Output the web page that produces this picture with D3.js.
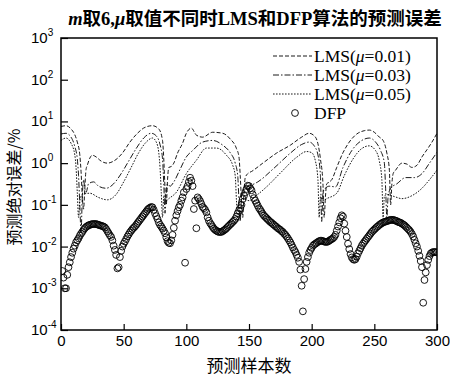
<!DOCTYPE html>
<html><head><meta charset="utf-8">
<script src="https://cdn.jsdelivr.net/npm/d3@7/dist/d3.min.js"></script>
<style>body{margin:0;background:#fff}svg{display:block}</style>
</head><body><svg id="c" width="450" height="376"></svg>
<script>
// ---------- data ----------
const xTicks = [0, 50, 100, 150, 200, 250, 300];
const yTickExps = [-4, -3, -2, -1, 0, 1, 2, 3];
const seriesNames = ["LMS(μ=0.01)", "LMS(μ=0.03)", "LMS(μ=0.05)", "DFP"];
const muLabels = ["0.01", "0.03", "0.05"];

// DFP prediction error (%), samples 1..300
const dfpValues = [
 2.6e-3,1.8e-3,1.0e-3,1.0e-3,2.1e-3,3.2e-3,4.2e-3,5.6e-3,7.1e-3,8.9e-3,
 1.05e-2,1.26e-2,1.41e-2,1.58e-2,1.82e-2,2.04e-2,2.24e-2,2.51e-2,2.75e-2,2.95e-2,
 3.09e-2,3.24e-2,3.31e-2,3.39e-2,3.47e-2,3.47e-2,3.47e-2,3.47e-2,3.39e-2,3.31e-2,
 3.24e-2,3.16e-2,3.09e-2,3.02e-2,2.88e-2,2.63e-2,2.34e-2,2.09e-2,1.86e-2,1.70e-2,
 1.41e-2,1.05e-2,8.3e-3,6.3e-3,3.0e-3,3.2e-3,5.6e-3,7.9e-3,1.0e-2,1.17e-2,
 1.32e-2,1.51e-2,1.74e-2,1.95e-2,2.19e-2,2.40e-2,2.63e-2,2.82e-2,3.02e-2,3.31e-2,
 3.63e-2,3.98e-2,4.37e-2,4.79e-2,5.25e-2,5.75e-2,6.31e-2,6.92e-2,7.59e-2,8.13e-2,
 8.51e-2,8.91e-2,8.71e-2,7.59e-2,6.31e-2,5.37e-2,4.57e-2,3.80e-2,3.31e-2,3.02e-2,
 2.69e-2,2.40e-2,2.09e-2,1.66e-2,1.35e-2,1.23e-2,1.20e-2,1.41e-2,1.91e-2,2.82e-2,
 4.17e-2,5.62e-2,7.08e-2,8.71e-2,0.100,0.126,0.151,0.200,4.1e-3,0.240,
 0.282,0.355,0.447,0.380,0.282,0.0794,0.126,0.0275,0.151,0.138,
 0.123,0.105,0.0891,0.0832,0.0759,0.0661,0.0501,0.0417,0.0363,0.0331,
 0.0295,0.0269,0.0251,0.0240,0.0229,0.0224,0.0224,0.0224,0.0234,0.0245,
 0.0257,0.0275,0.0295,0.0316,0.0339,0.0363,0.0389,0.0417,0.0457,0.0525,
 0.0631,0.0724,0.0832,0.100,0.138,0.166,0.200,0.240,0.288,0.282,
 0.251,0.224,0.178,0.145,0.126,0.110,0.0955,0.0832,0.0759,0.0676,
 0.0603,0.0550,0.0513,0.0479,0.0447,0.0417,0.0389,0.0372,0.0347,0.0331,
 0.0309,0.0295,0.0275,0.0263,0.0251,0.0234,0.0224,0.0204,0.0191,0.0174,
 0.0158,0.0141,0.0126,0.0110,9.5e-3,8.3e-3,7.4e-3,6.3e-3,5.4e-3,4.3e-3,
 2.8e-3,1.15e-3,2.8e-4,1.66e-3,2.9e-3,4.3e-3,5.6e-3,7.1e-3,8.3e-3,9.3e-3,
 1.05e-2,1.12e-2,1.17e-2,1.23e-2,1.29e-2,1.35e-2,1.38e-2,1.38e-2,1.35e-2,1.32e-2,
 1.29e-2,1.29e-2,1.32e-2,1.38e-2,1.45e-2,1.51e-2,1.58e-2,1.70e-2,1.91e-2,2.40e-2,
 3.02e-2,3.80e-2,4.79e-2,5.62e-2,5.25e-2,3.55e-2,2.40e-2,1.70e-2,1.17e-2,8.7e-3,
 6.6e-3,5.5e-3,5.0e-3,4.8e-3,5.0e-3,5.75e-3,6.9e-3,7.9e-3,9.1e-3,1.05e-2,
 1.17e-2,1.29e-2,1.41e-2,1.55e-2,1.70e-2,1.86e-2,2.04e-2,2.24e-2,2.40e-2,2.57e-2,
 2.75e-2,2.95e-2,3.09e-2,3.31e-2,3.47e-2,3.63e-2,3.80e-2,3.89e-2,3.98e-2,4.07e-2,
 4.17e-2,4.27e-2,4.37e-2,4.37e-2,4.37e-2,4.27e-2,4.17e-2,4.07e-2,3.89e-2,3.80e-2,
 3.72e-2,3.55e-2,3.39e-2,3.24e-2,3.02e-2,2.82e-2,2.63e-2,2.45e-2,2.24e-2,2.00e-2,
 1.74e-2,1.45e-2,1.20e-2,1.00e-2,7.9e-3,6.0e-3,4.5e-3,3.2e-3,4.5e-4,1.58e-3,
 2.4e-3,3.6e-3,4.8e-3,5.9e-3,6.8e-3,7.2e-3,7.4e-3,7.4e-3,7.4e-3,7.2e-3
];

// LMS curves: [sample, error %]
const lms001 = [[0,7.6],[4,7.9],[8,6.6],[11,4.8],[13,3.2],[15,1.58],[16,0.63],[17,0.158],[18,0.079],[19,0.25],
 [20,0.71],[21,0.89],[23,1.32],[25,1.55],[28,1.41],[32,1.12],[37,1.0],[42,1.12],[49,1.74],[55,3.2],
 [61,5.2],[67,7.2],[73,7.9],[78,6.6],[81,3.5],[82,1.26],[83,0.25],[84,0.1],[85,0.4],[86,0.79],
 [88,0.83],[90,1.0],[93,1.74],[97,3.0],[100,5.2],[104,6.9],[108,4.7],[113,4.2],[121,5.5],[129,5.2],
 [135,3.8],[140,2.24],[142,1.41],[143,0.5],[144,0.126],[145,0.05],[146,0.2],[147,0.45],[149,0.56],[152,0.63],
 [161,1.0],[172,1.74],[183,2.7],[192,4.2],[198,5.2],[203,4.2],[207,1.26],[209,0.32],[210,0.05],[211,0.158],
 [212,0.32],[214,0.35],[216,0.4],[220,0.79],[225,1.78],[230,3.2],[236,5.0],[242,6.0],[246,6.2],[250,5.5],
 [254,4.2],[257,3.5],[260,1.74],[262,0.68],[263,0.1],[264,0.32],[265,0.56],[267,0.68],[272,1.0],[276,0.95],
 [280,0.79],[284,0.89],[288,1.41],[292,2.1],[296,3.2],[300,5.2]];
const lms003 = [[0,5.0],[4,5.2],[8,4.2],[11,2.5],[13,1.26],[14,0.5],[15,0.1],[16,0.022],[17,0.158],[18,0.4],
 [19,0.25],[20,0.2],[22,0.32],[26,0.355],[30,0.28],[36,0.25],[42,0.32],[48,0.56],[54,1.12],[60,2.24],
 [66,4.0],[72,5.2],[76,4.5],[79,2.8],[81,1.26],[82,0.32],[83,0.063],[84,0.2],[85,0.32],[87,0.28],
 [90,0.355],[95,0.71],[100,1.41],[105,2.0],[113,3.2],[121,3.5],[129,2.7],[135,1.78],[139,1.0],[141,0.5],
 [142,0.126],[143,0.04],[144,0.158],[146,0.25],[150,0.28],[157,0.355],[170,0.76],[183,1.74],[192,2.8],[198,3.2],
 [202,2.6],[205,1.58],[207,0.5],[208,0.04],[209,0.2],[211,0.25],[214,0.28],[219,0.27],[225,0.79],[232,2.0],
 [240,3.5],[246,4.0],[251,3.2],[255,2.0],[258,1.0],[259,0.25],[260,0.05],[261,0.158],[263,0.25],[268,0.32],
 [275,0.45],[282,0.45],[288,0.56],[294,1.0],[300,1.82]];
const lms005 = [[0,3.5],[4,4.0],[8,3.0],[11,1.58],[12,0.79],[13,0.2],[14,0.05],[15,0.126],[17,0.178],[23,0.19],
 [30,0.15],[37,0.132],[44,0.178],[50,0.355],[56,0.79],[62,1.78],[68,3.2],[73,4.0],[76,3.2],[78,1.78],
 [79,0.79],[80,0.2],[81,0.05],[82,0.158],[84,0.126],[86,0.141],[92,0.2],[100,0.56],[108,1.17],[116,2.3],
 [124,2.3],[132,1.55],[137,0.89],[139,0.5],[140,0.126],[141,0.04],[142,0.126],[145,0.141],[150,0.126],[157,0.178],
 [164,0.27],[175,0.58],[188,1.38],[196,1.9],[200,1.78],[203,1.12],[205,0.4],[206,0.05],[207,0.158],[209,0.126],
 [212,0.141],[220,0.19],[226,0.5],[233,1.26],[240,2.24],[246,2.6],[251,2.0],[254,1.12],[256,0.4],[257,0.05],
 [258,0.158],[260,0.178],[266,0.158],[272,0.141],[280,0.166],[288,0.25],[294,0.4],[300,0.68]];

// ---------- chart ----------
const svg = d3.select('#c');
const L = 61, R = 437, T = 38, B = 330;
const x = d3.scaleLinear().domain([0, 300]).range([L, R]);
const y = d3.scaleLog().domain([1e-4, 1e3]).range([B, T]);
const sans = '"Liberation Sans", Arial, sans-serif';
const serif = '"Liberation Serif", "Times New Roman", "Noto Sans CJK SC", serif';
const cjk = '"Noto Sans CJK SC", sans-serif';

svg.append('defs').append('clipPath').attr('id','clip')
  .append('rect').attr('x', L).attr('y', T).attr('width', R-L).attr('height', B-T);

// title
const title = svg.append('text').attr('x', 255).attr('y', 25).attr('text-anchor','middle')
  .attr('font-family', '"Liberation Serif", "Noto Sans CJK SC", serif').attr('font-weight','bold').attr('font-size', 18.5);
title.append('tspan').attr('font-style','italic').text('m');
title.append('tspan').text('取6,');
title.append('tspan').attr('font-style','italic').text('μ');
title.append('tspan').text('取值不同时LMS和DFP算法的预测误差');

// axes
const xAxis = svg.append('g').attr('transform', `translate(0,${B})`)
  .call(d3.axisBottom(x).tickValues(xTicks).tickSize(-6).tickPadding(5).tickFormat(d3.format('d')));
xAxis.select('.domain').remove();
xAxis.selectAll('text').attr('font-family', sans).attr('font-size', 15).attr('fill','#000');
xAxis.selectAll('line').attr('stroke','#000').attr('stroke-width',1.2);

const yAxis = svg.append('g').attr('transform', `translate(${L},0)`)
  .call(d3.axisLeft(y).tickValues(yTickExps.map(e => Math.pow(10, e))).tickSize(-7).tickFormat(() => ''));
yAxis.select('.domain').remove();
yAxis.selectAll('line').attr('stroke','#000').attr('stroke-width',1.2);

const ylab = svg.append('g').selectAll('text').data(yTickExps).join('text')
  .attr('x', 31).attr('y', e => y(Math.pow(10, e)) + 5)
  .attr('font-family', sans).attr('font-size', 15).attr('fill','#000');
ylab.append('tspan').text('10');
ylab.append('tspan').attr('dy', -7).attr('font-size', 10).text(e => String(e));

// frame
svg.append('rect').attr('x', L).attr('y', T).attr('width', R-L).attr('height', B-T)
  .attr('fill','none').attr('stroke','#000').attr('stroke-width',1.5);

// axis titles
svg.append('text').attr('x', 249).attr('y', 372).attr('text-anchor','middle')
  .attr('font-family', cjk).attr('font-size', 17).text('预测样本数');
svg.append('text').attr('transform', 'translate(20,187) rotate(-90)').attr('text-anchor','middle')
  .attr('font-family', cjk).attr('font-size', 16).text('预测绝对误差/%');

// lines
const plot = svg.append('g').attr('clip-path','url(#clip)');
const line = d3.line().x(d => x(d[0])).y(d => y(d[1])).curve(d3.curveMonotoneX);
const dashes = ['4,2', '6,2,1.5,2', '1.6,1.4'];
[lms001, lms003, lms005].forEach((s, i) => {
  plot.append('path').datum(s).attr('d', line).attr('fill','none')
    .attr('stroke','#000').attr('stroke-width', 0.9).attr('stroke-dasharray', dashes[i]);
});

// DFP circles
plot.append('g').selectAll('circle').data(dfpValues).join('circle')
  .attr('cx', (d, i) => x(i + 1)).attr('cy', d => y(d)).attr('r', 3.4)
  .attr('fill','none').attr('stroke','#000').attr('stroke-width', 0.9);

// legend
const legRows = [56, 75, 94];
const leg = svg.append('g');
muLabels.forEach((m, i) => {
  leg.append('line').attr('x1', 273).attr('x2', 312).attr('y1', legRows[i]).attr('y2', legRows[i])
    .attr('stroke','#000').attr('stroke-width',0.9).attr('stroke-dasharray', dashes[i]);
  const t = leg.append('text').attr('x', 314).attr('y', legRows[i] + 6)
    .attr('font-family', serif).attr('font-size', 17.5).attr('fill','#000');
  t.append('tspan').text('LMS(');
  t.append('tspan').attr('font-style','italic').text('μ');
  t.append('tspan').text('=' + m + ')');
});
leg.append('circle').attr('cx', 295).attr('cy', 113).attr('r', 3.4)
  .attr('fill','none').attr('stroke','#000').attr('stroke-width',0.9);
leg.append('text').attr('x', 314).attr('y', 119).attr('font-family', serif).attr('font-size', 17.5)
  .text(seriesNames[3]);
</script></body></html>
